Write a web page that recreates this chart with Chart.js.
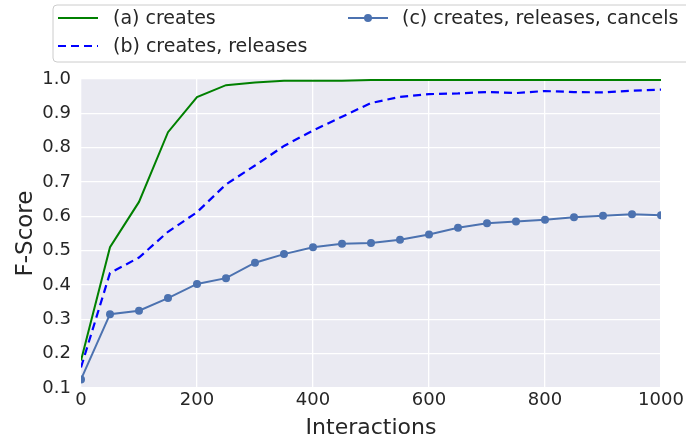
<!DOCTYPE html>
<html>
<head>
<meta charset="utf-8">
<script src="https://cdn.jsdelivr.net/npm/chart.js@4/dist/chart.umd.min.js"></script>
<style>
html,body{margin:0;padding:0;background:#fff;}
#wrap{position:relative;width:686px;height:441px;}
</style>
</head>
<body>
<div id="wrap"><canvas id="c" width="686" height="441"></canvas></div>
<script>
const interactions = [0,50,100,150,200,250,300,350,400,450,500,550,600,650,700,750,800,850,900,950,1000];
const creates = [0.18,0.51,0.642,0.845,0.947,0.982,0.99,0.995,0.995,0.995,0.997,0.997,0.997,0.997,0.997,0.997,0.997,0.997,0.997,0.997,0.997];
const createsReleases = [0.16,0.435,0.48,0.555,0.612,0.693,0.748,0.805,0.85,0.89,0.93,0.948,0.956,0.958,0.962,0.959,0.965,0.962,0.961,0.966,0.969];
const createsReleasesCancels = [0.125,0.315,0.325,0.362,0.403,0.42,0.465,0.49,0.51,0.52,0.522,0.532,0.547,0.567,0.58,0.585,0.59,0.597,0.602,0.606,0.603];
const seriesLabels = ['(a) creates','(b) creates, releases','(c) creates, releases, cancels'];

const FONT = 'DejaVu Sans';
const TXT = '#262626';

const toXY = arr => arr.map((v,i)=>({x:interactions[i], y:v}));

const bgPlugin = {
  id:'bg',
  beforeDraw(chart){
    const {ctx, chartArea:a} = chart;
    ctx.save();
    ctx.fillStyle = '#EAEAF2';
    ctx.fillRect(a.left, a.top, a.right-a.left, a.bottom-a.top);
    ctx.restore();
  }
};

const legendPlugin = {
  id:'customLegend',
  afterDraw(chart){
    const ctx = chart.ctx;
    const ds = chart.data.datasets;
    ctx.save();
    const x0=53, y0=5, x1=700, y1=62, r=4;
    ctx.beginPath();
    ctx.moveTo(x0+r,y0); ctx.lineTo(x1,y0); ctx.lineTo(x1,y1); ctx.lineTo(x0+r,y1);
    ctx.arcTo(x0,y1,x0,y1-r,r); ctx.lineTo(x0,y0+r); ctx.arcTo(x0,y0,x0+r,y0,r);
    ctx.closePath();
    ctx.fillStyle='rgba(255,255,255,0.9)'; ctx.fill();
    ctx.strokeStyle='#cccccc'; ctx.lineWidth=1; ctx.stroke();
    const items = [
      {ds:ds[0], lx:58, ly:18, tx:113},
      {ds:ds[1], lx:58, ly:46, tx:113},
      {ds:ds[2], lx:348, ly:18, tx:402}
    ];
    ctx.font = '19px "' + FONT + '"';
    ctx.textBaseline='middle';
    ctx.fillStyle=TXT;
    items.forEach(it=>{
      ctx.save();
      ctx.strokeStyle = it.ds.borderColor;
      ctx.lineWidth = it.ds.borderWidth;
      ctx.setLineDash(it.ds.borderDash || []);
      ctx.beginPath(); ctx.moveTo(it.lx, it.ly); ctx.lineTo(it.lx+40, it.ly); ctx.stroke();
      ctx.setLineDash([]);
      if (it.ds.pointRadius > 0){
        ctx.fillStyle = it.ds.pointBackgroundColor;
        ctx.beginPath(); ctx.arc(it.lx+20, it.ly, it.ds.pointRadius, 0, Math.PI*2); ctx.fill();
      }
      ctx.restore();
      ctx.fillText(it.ds.label, it.tx, it.ly+1);
    });
    ctx.restore();
  }
};

new Chart(document.getElementById('c'), {
  type:'line',
  data:{
    datasets:[
      {label:seriesLabels[0], data:toXY(creates), borderColor:'#008000', borderWidth:2, pointRadius:0, tension:0, clip:0},
      {label:seriesLabels[1], data:toXY(createsReleases), borderColor:'#0000FF', borderWidth:2.2, borderDash:[8,5], pointRadius:0, tension:0, clip:0},
      {label:seriesLabels[2], data:toXY(createsReleasesCancels), borderColor:'#4C72B0', borderWidth:2, pointRadius:4, pointBackgroundColor:'#4C72B0', pointBorderColor:'#4C72B0', pointBorderWidth:0, tension:0, clip:0}
    ]
  },
  options:{
    responsive:false,
    animation:false,
    devicePixelRatio:1,
    layout:{padding:{top:79, right:25, left:0, bottom:0}},
    plugins:{legend:{display:false}, tooltip:{enabled:false}},
    scales:{
      x:{
        type:'linear', min:0, max:1000,
        ticks:{stepSize:200, color:TXT, font:{family:FONT, size:18}, padding:2, maxRotation:0, callback:v=>String(v)},
        grid:{color:'#ffffff', lineWidth:1.3, drawTicks:false},
        border:{display:false},
        title:{display:true, text:'Interactions', color:TXT, font:{family:FONT, size:22}, padding:{top:0,bottom:0}},
        afterFit(s){ s.height = 53; s.paddingRight = 0; s.paddingLeft = 0; }
      },
      y:{
        min:0.1, max:1.0,
        ticks:{stepSize:0.1, color:TXT, font:{family:FONT, size:18}, padding:10, callback:v=>Number(v).toFixed(1)},
        grid:{color:'#ffffff', lineWidth:1.3, drawTicks:false},
        border:{display:false},
        title:{display:true, text:'F-Score', color:TXT, font:{family:FONT, size:23}, padding:{top:12,bottom:0}},
        afterFit(s){ s.width = 81; s.paddingTop = 0; s.paddingBottom = 0; }
      }
    }
  },
  plugins:[bgPlugin, legendPlugin]
});
</script>
</body>
</html>
